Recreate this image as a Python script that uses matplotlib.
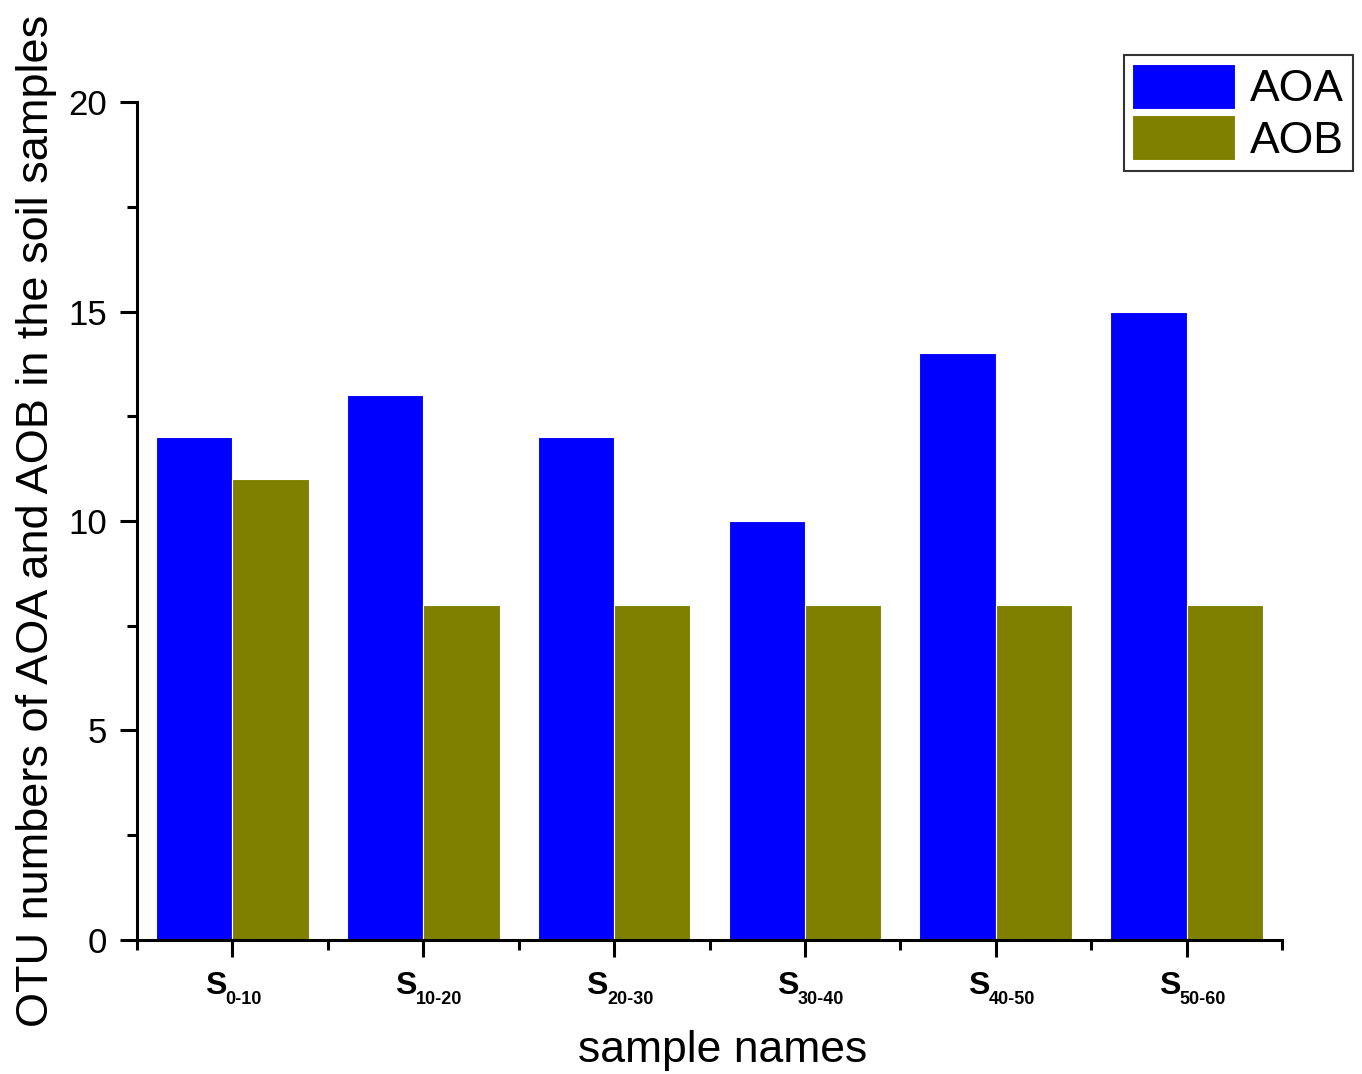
import numpy as np
import matplotlib
matplotlib.use("Agg")
import matplotlib.pyplot as plt
from matplotlib.ticker import MultipleLocator, FixedLocator
import matplotlib.transforms as mtransforms

plt.rcParams['font.family'] = ['Liberation Sans', 'DejaVu Sans']

# donnees
samples = ['0-10', '10-20', '20-30', '30-40', '40-50', '50-60']
aoa = [12, 13, 12, 10, 14, 15]
aob = [11, 8, 8, 8, 8, 8]

fig = plt.figure(figsize=(13.62, 10.74), dpi=100)
ax = fig.add_axes([0.1006, 0.1248, 0.8407, 0.7802])

x = np.arange(len(samples))
w = 0.4
ax.bar(x - w / 2, aoa, w, color='#0000ff', edgecolor='white', linewidth=0.8, label='AOA')
ax.bar(x + w / 2, aob, w, color='#808000', edgecolor='white', linewidth=0.8, label='AOB')

ax.set_xlim(-0.5, len(samples) - 0.5)
ax.set_ylim(0, 20)
ax.spines['top'].set_visible(False)
ax.spines['right'].set_visible(False)
for s in ['left', 'bottom']:
    ax.spines[s].set_linewidth(2.2)

ax.yaxis.set_major_locator(MultipleLocator(5))
ax.yaxis.set_minor_locator(MultipleLocator(2.5))
ax.xaxis.set_major_locator(FixedLocator(x))
ax.xaxis.set_minor_locator(FixedLocator(np.arange(-0.5, len(samples), 1.0)))
ax.tick_params(axis='both', which='major', direction='out', length=12.5, width=2.2,
               labelsize=25, pad=9)
ax.tick_params(axis='both', which='minor', direction='out', length=7, width=2.2)
ax.set_xticklabels([''] * len(samples))

# etiquettes S avec indice
trans = mtransforms.blended_transform_factory(ax.transData, ax.transAxes)
for i, s in enumerate(samples):
    ax.annotate('S', xy=(x[i], 0), xycoords=trans, xytext=(-20, -22),
                textcoords='offset points', fontsize=23, fontweight='bold',
                ha='left', va='top')
    ax.annotate(s, xy=(x[i], 0), xycoords=trans, xytext=(-5, -37),
                textcoords='offset points', fontsize=13, fontweight='bold',
                ha='left', va='top')

ax.set_xlabel('sample names', fontsize=32)
ax.xaxis.set_label_coords(0.511, -0.108)
ax.set_ylabel('OTU numbers of AOA and AOB in the soil samples', fontsize=32.5, labelpad=8)

leg = ax.legend(loc='upper right', bbox_to_anchor=(0.9935, 0.949), bbox_transform=fig.transFigure,
                fontsize=32, frameon=True, fancybox=False, edgecolor='black',
                handlelength=2.3, handleheight=1.2, handletextpad=0.35,
                labelspacing=0.1, borderpad=0.2, borderaxespad=0)
leg.get_frame().set_linewidth(1.5)

fig.savefig('out.png', dpi=100)
